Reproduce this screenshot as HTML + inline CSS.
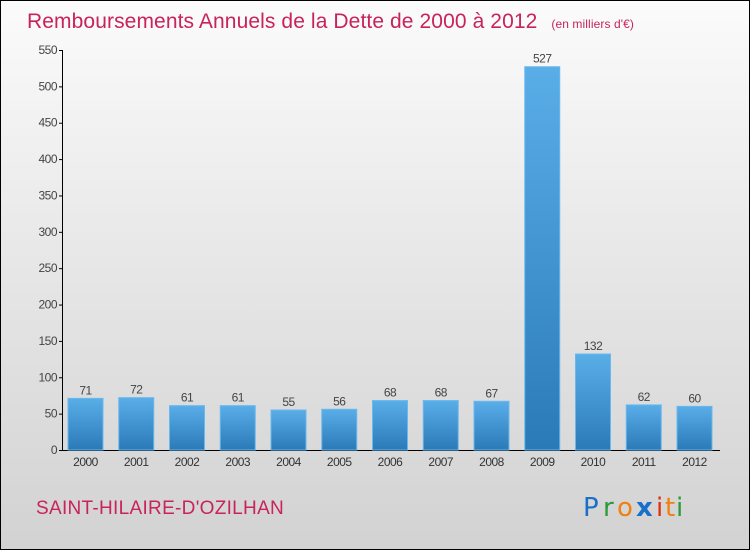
<!DOCTYPE html>
<html><head><meta charset="utf-8"><style>
body{margin:0}
#c{width:748px;height:548px;border:1px solid #000;background:linear-gradient(#fbfbfb,#e6e6e6 50%,#d2d2d2);position:relative;overflow:hidden;font-family:"Liberation Sans",sans-serif}
</style></head><body>
<div id="c">
<svg width="748" height="548" viewBox="1 1 748 548" style="position:absolute;left:0;top:0">
<defs><linearGradient id="g" x1="0" y1="0" x2="0" y2="1"><stop offset="0" stop-color="#5aaee8"/><stop offset="1" stop-color="#2a7ab8"/></linearGradient></defs>
<text x="27" y="28" font-size="21" fill="#c8235a" style="letter-spacing:0.1px">Remboursements Annuels de la Dette de 2000 à 2012 <tspan font-size="12" dx="8">(en milliers d'€)</tspan></text>
<g id="axes"></g><g id="bars"></g>
<text x="36" y="514" font-size="19" fill="#c8235a" style="letter-spacing:0.3px">SAINT-HILAIRE-D'OZILHAN</text>
<g font-size="26" font-family="DejaVu Sans,sans-serif">
<text x="583" y="516" fill="#1a6fc8">P</text><text x="603" y="516" fill="#2a9a3a">r</text><text x="617" y="516" fill="#f08010">o</text><text x="636" y="516" fill="#1a6fc8" font-weight="bold">x</text><text x="656" y="516" fill="#e03010">i</text><text x="665" y="516" fill="#f08010">t</text><text x="676" y="516" fill="#2a9a3a">i</text>
</g>
</svg>
</div>
<script>
const years=["2000","2001","2002","2003","2004","2005","2006","2007","2008","2009","2010","2011","2012"];
const values=[71,72,61,61,55,56,68,68,67,527,132,62,60];
const yTicks=[0,50,100,150,200,250,300,350,400,450,500,550];
const NS="http://www.w3.org/2000/svg";
const y=v=>450-v*400/550, x=i=>85.5+i*50.75;
function mk(t,a,p){const e=document.createElementNS(NS,t);for(const k in a)e.setAttribute(k,a[k]);p.appendChild(e);return e;}
const ax=document.getElementById('axes'),bs=document.getElementById('bars');
let l=mk('line',{x1:62.5,y1:50,x2:62.5,y2:450.5,stroke:'#000'},ax);


l=mk('line',{x1:62,y1:450.5,x2:720,y2:450.5,stroke:'#000'},ax);


yTicks.forEach(v=>{
 mk('line',{x1:59,x2:63,y1:y(v)+.5,y2:y(v)+.5,stroke:'#000'},ax);
 const t=mk('text',{x:57,y:y(v)+4,'text-anchor':'end','font-size':12,fill:'#444','letter-spacing':'-0.5'},ax);t.textContent=v;
 
 
});
values.forEach((v,i)=>{
 const r=mk('rect',{x:x(i)-17.5,y:y(v),width:35,height:450-y(v),fill:'url(#g)',stroke:'#6bb8ee','stroke-width':1},bs);
 
 
 const t=mk('text',{x:x(i),y:y(v)-4,'text-anchor':'middle','font-size':12,fill:'#444','letter-spacing':'-0.5'},bs);t.textContent=v;
 
 
 const xl=mk('text',{x:x(i),y:466,'text-anchor':'middle','font-size':12,fill:'#333','letter-spacing':'-0.5'},bs);xl.textContent=years[i];
 
 
});
</script>
</body></html>
